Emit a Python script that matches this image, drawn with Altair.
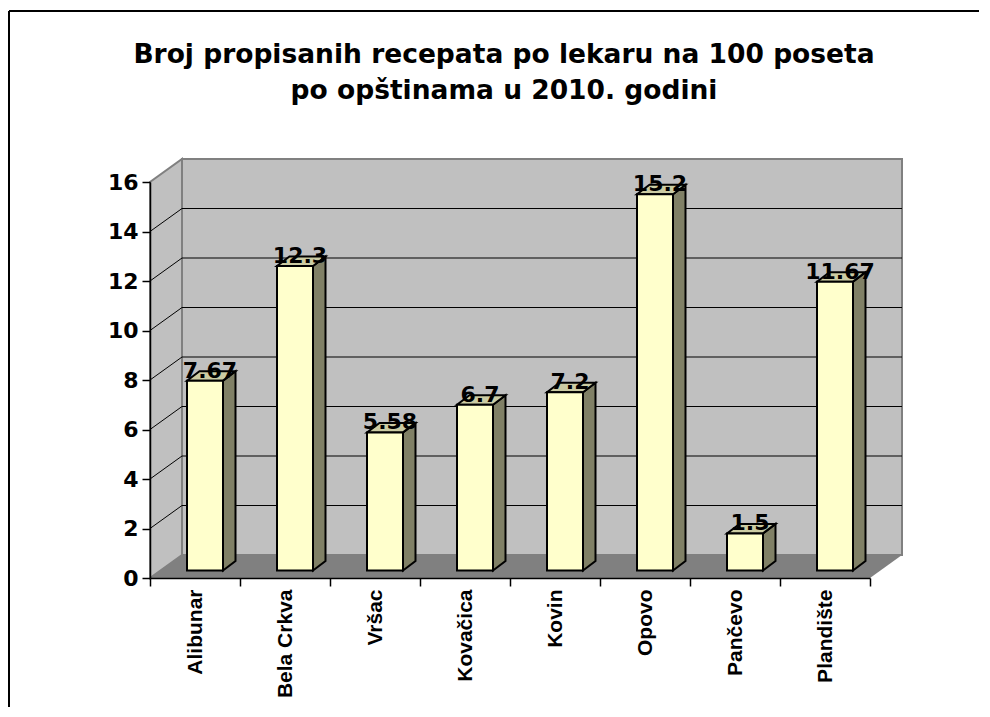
import json
import altair as alt
import pandas as pd

# ---------------- data ----------------
categories = ["Alibunar", "Bela Crkva", "Vršac", "Kovačica", "Kovin", "Opovo", "Pančevo", "Plandište"]
values = [7.67, 12.3, 5.58, 6.7, 7.2, 15.2, 1.5, 11.67]
value_labels = ["7.67", "12.3", "5.58", "6.7", "7.2", "15.2", "1.5", "11.67"]
y_ticks = [0, 2, 4, 6, 8, 10, 12, 14, 16]
title_lines = ["Broj propisanih recepata po lekaru na 100 poseta", "po opštinama u 2010. godini"]

# ---------------- geometry (pixel styling -> data units) ----------------
W, H = 720, 396
N = len(categories)
YMAX = y_ticks[-1]
PXX = W / N
PXY = H / YMAX


def hx(px):
    return px / PXX


def hy(px):
    return px / PXY


WALL_DX, WALL_DY = 32, 23      # depth of the 3D box
BAR_FX, BAR_FY = 10, 7.5       # front face of bars sits inside the box
BAR_HALF = 18                  # half width of bar front face
BAR_DX, BAR_DY = 12.5, 9.5     # bar depth

wdx, wdy = hx(WALL_DX), hy(WALL_DY)

bars = pd.DataFrame({"name": categories, "value": values, "label": value_labels, "i": range(N)})
bars["c"] = bars["i"] + 0.5
bars["xl"] = bars["c"] + hx(BAR_FX) - hx(BAR_HALF)
bars["xr"] = bars["c"] + hx(BAR_FX) + hx(BAR_HALF)
bars["yb"] = hy(BAR_FY)
bars["yt"] = bars["value"] + hy(BAR_FY)

bdx, bdy = hx(BAR_DX), hy(BAR_DY)
side_rows, top_rows = [], []
for rec in bars.to_dict("records"):
    nm, xl, xr, yb, yt = rec["name"], rec["xl"], rec["xr"], rec["yb"], rec["yt"]
    side_rows.append({"name": nm, "x": xr, "y": yb, "y2": yt})
    side_rows.append({"name": nm, "x": xr + bdx, "y": yb + bdy, "y2": yt + bdy})
    top_rows.append({"name": nm, "x": xl, "y": yt, "y2": yt})
    top_rows.append({"name": nm, "x": xl + bdx, "y": yt, "y2": yt + bdy})
    top_rows.append({"name": nm, "x": xr, "y": yt, "y2": yt + bdy})
    top_rows.append({"name": nm, "x": xr + bdx, "y": yt + bdy, "y2": yt + bdy})
side_df = pd.DataFrame(side_rows)
top_df = pd.DataFrame(top_rows)

back_df = pd.DataFrame([{"x": wdx, "x2": N + wdx, "y": wdy, "y2": YMAX + wdy}])
left_df = pd.DataFrame([{"x": 0, "y": 0, "y2": YMAX}, {"x": wdx, "y": wdy, "y2": YMAX + wdy}])
floor_df = pd.DataFrame([
    {"x": 0, "y": 0, "y2": 0},
    {"x": wdx, "y": 0, "y2": wdy},
    {"x": N, "y": 0, "y2": wdy},
    {"x": N + wdx, "y": wdy, "y2": wdy},
])
grid_df = pd.DataFrame({"v": y_ticks[1:-1]})
grid_df["x"] = wdx
grid_df["x2"] = N + wdx
grid_df["yb"] = grid_df["v"] + wdy
grid_df["x0"] = 0.0
grid_df["y0"] = grid_df["v"]

# ---------------- scales / axes ----------------
xs = alt.Scale(domain=[0, N], nice=False, zero=False)
ys = alt.Scale(domain=[0, YMAX], nice=False, zero=False)
cats_js = json.dumps(categories, ensure_ascii=False)
x_axis = alt.Axis(
    values=list(range(N + 1)),
    labelExpr=f"datum.value < {N} ? {cats_js}[datum.value] : ''",
    labelAngle=270, labelOffset=PXX / 2, labelFlush=False, labelOverlap=False,
    labelFont="Liberation Sans", labelFontSize=21, labelFontWeight="bold", labelColor="black",
    labelPadding=3, tickSize=8, tickColor="black", tickWidth=1.5,
    domainColor="black", domainWidth=1.5, grid=False, title=None, zindex=1,
)
y_axis = alt.Axis(
    values=y_ticks, labelFlush=False, labelOverlap=False,
    labelFont="DejaVu Sans", labelFontSize=22, labelFontWeight="bold", labelColor="black",
    labelPadding=4, tickSize=8, tickColor="black", tickWidth=1.5,
    domainColor="black", domainWidth=1.5, grid=False, title=None, zindex=1,
)


def X(f):
    return alt.X(f, type="quantitative", scale=xs, axis=x_axis)


def Y(f):
    return alt.Y(f, type="quantitative", scale=ys, axis=y_axis, stack=None)


back = alt.Chart(back_df).mark_rect(fill="#C0C0C0", stroke="#808080", strokeWidth=2).encode(
    x=X("x"), x2="x2", y=Y("y"), y2="y2")
left = alt.Chart(left_df).mark_area(fill="#C0C0C0", stroke="#808080", strokeWidth=2, orient="vertical").encode(
    x=X("x"), y=Y("y"), y2="y2")
floor = alt.Chart(floor_df).mark_area(fill="#808080", orient="vertical").encode(
    x=X("x"), y=Y("y"), y2="y2")
grid = alt.Chart(grid_df).mark_rule(color="black", strokeWidth=1).encode(
    x=X("x"), x2="x2", y=Y("yb"))
diag = alt.Chart(grid_df).mark_rule(color="black", strokeWidth=1).encode(
    x=X("x0"), x2="x", y=Y("y0"), y2="yb")

side = alt.Chart(side_df).mark_area(fill="#808066", stroke="black", strokeWidth=2, orient="vertical",
                                    strokeJoin="miter").encode(
    x=X("x"), y=Y("y"), y2="y2", detail="name:N")
top = alt.Chart(top_df).mark_area(fill="#CCCCA3", stroke="black", strokeWidth=2, orient="vertical",
                                  strokeJoin="miter").encode(
    x=X("x"), y=Y("y"), y2="y2", detail="name:N")
front = alt.Chart(bars).mark_rect(fill="#FFFFCC", stroke="black", strokeWidth=2).encode(
    x=X("xl"), x2="xr", y=Y("yb"), y2="yt")
labels = alt.Chart(bars).mark_text(
    font="DejaVu Sans", fontSize=22, fontWeight="bold", color="black",
    baseline="alphabetic", align="center", dx=15, dy=-10.5,
).encode(x=X("c"), y=Y("value"), text="label:N")

# outer frame (top and left edges only; the rest lies beyond the picture)
frame_src = pd.DataFrame({"k": [0]})
frame_top = alt.Chart(frame_src).mark_rule(color="black", strokeWidth=2).encode(
    x=alt.value(-141), x2=alt.value(829), y=alt.value(-171))
frame_left = alt.Chart(frame_src).mark_rule(color="black", strokeWidth=2).encode(
    x=alt.value(-141), y=alt.value(-171), y2=alt.value(527))

chart = alt.layer(back, left, floor, grid, diag, side, top, front, labels, frame_top, frame_left).properties(
    width=W, height=H,
    autosize=alt.AutoSizeParams(type="none"),
    padding={"left": 142, "top": 174, "right": 112, "bottom": 129},
    title=alt.TitleParams(
        text=title_lines, font="DejaVu Sans", fontSize=26.5, fontWeight="bold", color="black",
        anchor="middle", frame="group", offset=-94, lineHeight=36, dx=-6,
    ),
).configure_view(strokeWidth=0).configure(background="white")

chart.save("out.html", embed_options={"renderer": "svg", "actions": False})
